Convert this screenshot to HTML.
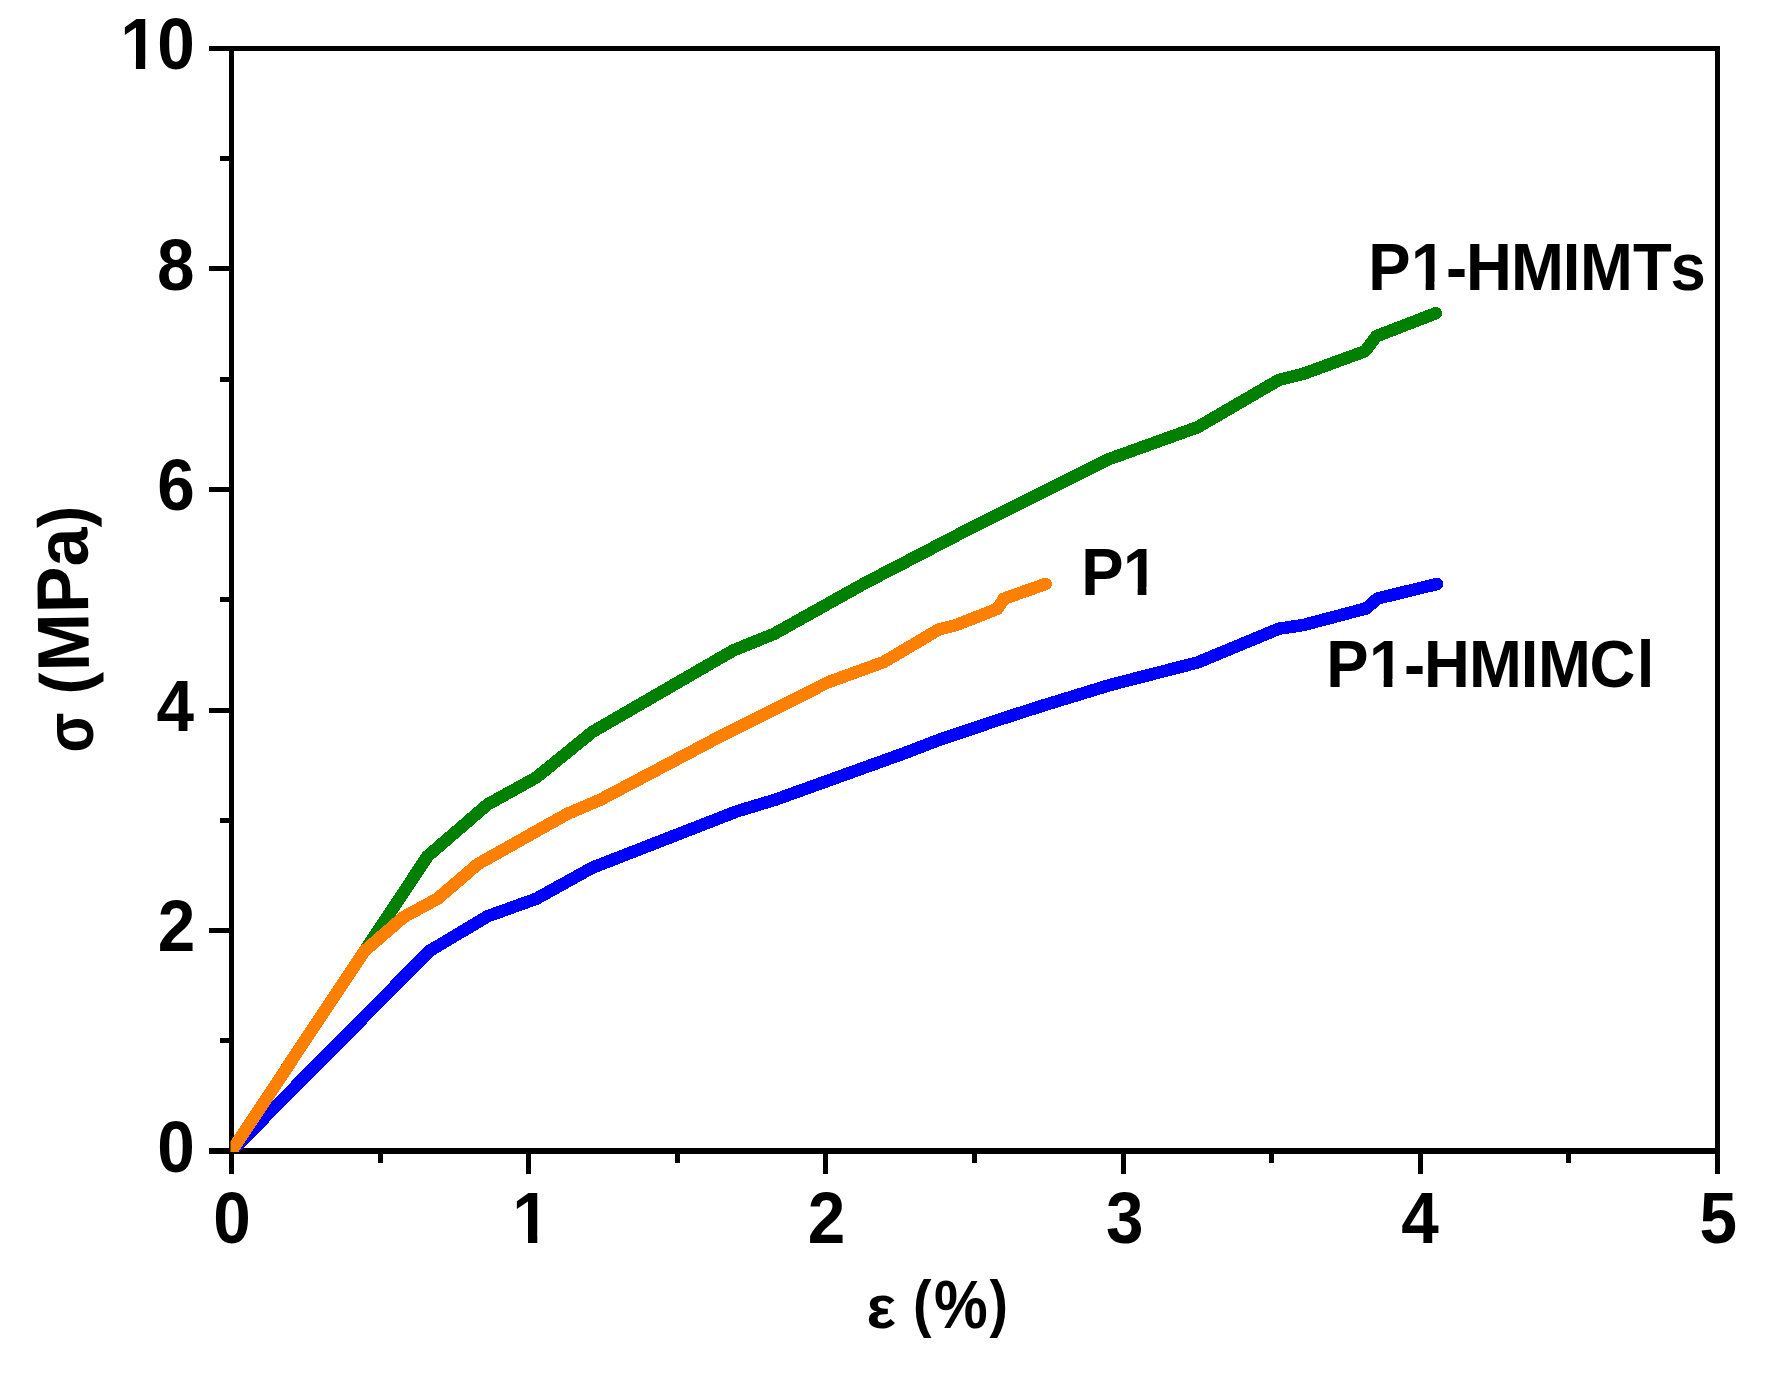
<!DOCTYPE html>
<html lang="en">
<head>
<meta charset="utf-8">
<title>Stress-strain curves</title>
<style>
html,body{margin:0;padding:0;background:#fff;}
body{width:1776px;height:1375px;overflow:hidden;}
svg{display:block;}
text{font-family:"Liberation Sans",Arial,Helvetica,sans-serif;font-weight:bold;fill:#000;}
</style>
</head>
<body>
<svg width="1776" height="1375" viewBox="0 0 1776 1375">
<defs><clipPath id="plot"><rect x="230.6" y="48.5" width="1487" height="1103.5"/></clipPath></defs>
<rect x="0" y="0" width="1776" height="1375" fill="#ffffff"/>
<g fill="#000" shape-rendering="crispEdges">
<rect x="209" y="46" width="1511" height="5"/>
<rect x="209" y="1148" width="1511" height="6"/>
<rect x="229" y="46" width="5" height="1128"/>
<rect x="1715" y="46" width="5" height="1128"/>
<rect x="220" y="1038" width="11" height="5"/>
<rect x="209" y="928" width="22" height="5"/>
<rect x="220" y="818" width="11" height="5"/>
<rect x="209" y="708" width="22" height="5"/>
<rect x="220" y="597" width="11" height="5"/>
<rect x="209" y="487" width="22" height="5"/>
<rect x="220" y="377" width="11" height="5"/>
<rect x="209" y="266" width="22" height="5"/>
<rect x="220" y="156" width="11" height="5"/>
<rect x="378" y="1150" width="5" height="13"/>
<rect x="526" y="1150" width="5" height="24"/>
<rect x="675" y="1150" width="5" height="13"/>
<rect x="823" y="1150" width="5" height="24"/>
<rect x="972" y="1150" width="5" height="13"/>
<rect x="1121" y="1150" width="5" height="24"/>
<rect x="1269" y="1150" width="5" height="13"/>
<rect x="1418" y="1150" width="5" height="24"/>
<rect x="1566" y="1150" width="5" height="13"/>
</g>
<g fill="none" stroke-width="12.5" stroke-linecap="round" stroke-linejoin="round" clip-path="url(#plot)" shape-rendering="crispEdges">
<polyline stroke="#0000ff" points="231.5,1151 429.5,951 487.5,916.25 536.25,898.75 592.5,867.6 737,811.3 775,799.8 870,765.6 905,753 940,739.5 1000,719.4 1040,706.5 1110,685 1197.5,662.5 1278.75,628.75 1303.5,625 1366.25,608.4 1377.5,598.5 1437,584"/>
<polyline stroke="#008000" points="231.5,1151 427.5,856.25 487.5,804.5 536.25,777.5 592.6,731.8 733.5,650.3 774,633.9 864.2,583.5 968.3,529.4 1072.5,477.3 1110,458.75 1197.5,427.25 1278.75,380 1303.5,373.75 1365,351.25 1376.25,336.25 1435.75,313.25"/>
<polyline stroke="#ff8000" points="231.5,1151 364.5,951 403.75,917 437.5,898.75 478,864 567.5,813.75 600.2,799.8 721,736 827.5,682.5 883.75,662 938.75,629.5 956.25,625 997.5,608.75 1003.75,598.75 1045.5,584"/>
</g>
<g>
<text transform="translate(0,1171.8) scale(1,1.067)" x="157.3" font-size="67.5">0</text>
<text transform="translate(0,951.3) scale(1,1.067)" x="157.8" font-size="67.5">2</text>
<text transform="translate(0,730.8) scale(1,1.067)" x="156.6" font-size="67.5">4</text>
<text transform="translate(0,510.3) scale(1,1.067)" x="157.3" font-size="67.5">6</text>
<text transform="translate(0,289.8) scale(1,1.067)" x="157.1" font-size="67.5">8</text>
<text transform="translate(0,69.3) scale(1,1.067)" x="120.2 157.3" font-size="67.5">10</text>
<text transform="translate(0,1242.9) scale(1,1.067)" x="213.2" font-size="67.5">0</text>
<text transform="translate(0,1242.9) scale(1,1.067)" x="512.3" font-size="67.5">1</text>
<text transform="translate(0,1242.9) scale(1,1.067)" x="807.7" font-size="67.5">2</text>
<text transform="translate(0,1242.9) scale(1,1.067)" x="1106.0" font-size="67.5">3</text>
<text transform="translate(0,1242.9) scale(1,1.067)" x="1401.3" font-size="67.5">4</text>
<text transform="translate(0,1242.9) scale(1,1.067)" x="1699.5" font-size="67.5">5</text>
<text transform="translate(866.50,1328) scale(1,1)" font-size="62">ε</text>
<text transform="translate(0,1328) scale(1,1.13)" font-size="60.4"><tspan x="912.9" dy="-2.5" font-size="55.5">(</tspan><tspan x="934.1" dy="2.5">%</tspan><tspan x="989.5" dy="-2.5" font-size="55.5">)</tspan></text>
<text transform="translate(92.5,752.5) rotate(-90) scale(0.86,1.0)" font-size="68">σ</text>
<text transform="translate(89.3,694.2) rotate(-90.7) scale(1,1.05)" font-size="69.8"><tspan font-size="66.3">(</tspan><tspan dx="1.2">MPa</tspan><tspan font-size="66.3">)</tspan></text>
<text transform="translate(0,289.9) scale(1,1.053)" x="1368.3 1410.9 1446.0 1466.0 1511.1 1562.7 1580.0 1633.1 1670.5" font-size="63.5">P1-HMIMTs</text>
<text transform="translate(0,594.9) scale(1,1.053)" x="1081.3 1122.9" font-size="63.5">P1</text>
<text transform="translate(0,686.9) scale(1,1.053)" x="1326.3 1368.9 1404.0 1424.0 1469.1 1520.7 1538.0 1589.6 1636.8" font-size="63.5">P1-HMIMCl</text>
</g>
<g fill="#ffffff">
<rect x="122.88" y="60.95" width="13.05" height="9.35"/>
<rect x="145.20" y="60.95" width="12.11" height="9.35"/>
<rect x="514.98" y="1234.55" width="13.05" height="9.35"/>
<rect x="537.30" y="1234.55" width="12.11" height="9.35"/>
<rect x="1413.40" y="282.07" width="12.28" height="8.83"/>
<rect x="1434.39" y="282.07" width="11.39" height="8.83"/>
<rect x="1125.40" y="587.07" width="12.28" height="8.83"/>
<rect x="1146.39" y="587.07" width="11.39" height="8.83"/>
<rect x="1371.40" y="679.07" width="12.28" height="8.83"/>
<rect x="1392.39" y="679.07" width="11.39" height="8.83"/>
</g>
</svg>
</body>
</html>
